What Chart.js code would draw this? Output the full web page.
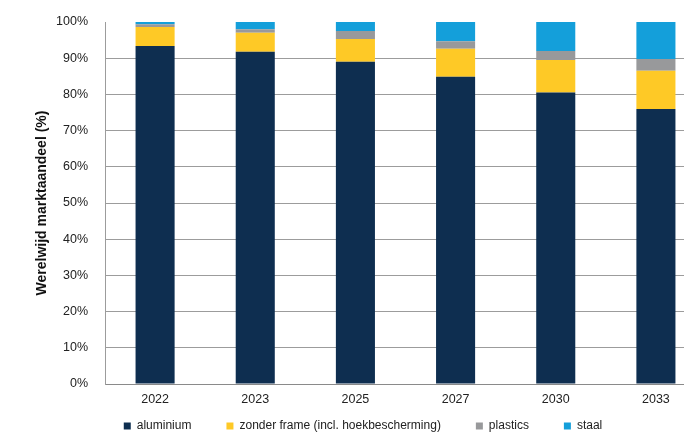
<!DOCTYPE html>
<html>
<head>
<meta charset="utf-8">
<script src="https://cdn.jsdelivr.net/npm/chart.js@4"></script>
<style>
html,body{margin:0;padding:0;background:#fff;overflow:hidden;}
#wrap{position:relative;width:706px;height:439px;}
</style>
</head>
<body>
<div id="wrap"><canvas id="c"></canvas></div>
<script>
const categories = ['2022','2023','2025','2027','2030','2033'];
const aluminium = [93.4, 91.8, 89.0, 84.9, 80.5, 76.0];
const zonderFrame = [5.2, 5.2, 6.3, 7.7, 9.0, 10.5];
const plastics = [0.8, 1.0, 2.2, 2.1, 2.5, 3.3];
const staal = [0.6, 2.0, 2.5, 5.3, 8.0, 10.2];
const seriesNames = ['aluminium','zonder frame (incl. hoekbescherming)','plastics','staal'];
const yTitle = 'Werelwijd marktaandeel (%)';

const FONT = "'Liberation Sans', Arial, sans-serif";
const colors = ['#0E2E50','#FEC926','#98999B','#149FDA'];

const legendShift = {
  id:'legendShift',
  afterLayout(chart){
    const lg = chart.legend;
    if(lg){
      lg.left += 10; lg.right += 10;
      lg.top = 385; lg.bottom = 439;
    }
  }
};

new Chart(document.getElementById('c'), {
  type:'bar',
  data:{
    labels: categories,
    datasets: [aluminium, zonderFrame, plastics, staal].map((d,i)=>({
      label: seriesNames[i],
      data: d,
      backgroundColor: colors[i],
      borderWidth: 0,
      categoryPercentage: 1,
      barPercentage: 0.39
    }))
  },
  options:{
    responsive:true,
    maintainAspectRatio:false,
    animation:false,
    layout:{padding:{left:0,right:0,top:22,bottom:0}},
    plugins:{
      tooltip:{enabled:false},
      legend:{
        position:'bottom',
        maxHeight:30,
        labels:{
          boxWidth:7, boxHeight:7, padding:35,
          color:'#222',
          font:{family:FONT,size:12}
        }
      }
    },
    scales:{
      x:{
        stacked:true,
        afterFit(s){ s.height = 25; },
        grid:{display:false, drawTicks:false},
        border:{display:true,color:'#8a8a8a',width:1},
        ticks:{color:'#222',padding:8,font:{family:FONT,size:12.5}}
      },
      y:{
        stacked:true,
        min:0,max:100,
        afterFit(s){ s.width = 105; s.paddingTop = 0; s.paddingBottom = 0; },
        grid:{
          drawTicks:false,
          color:(ctx)=> (ctx.tick && ctx.tick.value===100) ? 'rgba(0,0,0,0)' : '#9c9c9c',
          lineWidth:1
        },
        border:{display:true,color:'#9c9c9c',width:1},
        ticks:{stepSize:10,padding:17,color:'#222',
          font:{family:FONT,size:12.5},
          callback:(v)=>v+'%'},
        title:{display:true,text:yTitle,color:'#111',
          padding:{top:34,bottom:0},
          font:{family:FONT,size:14,weight:'bold'}}
      }
    }
  },
  plugins:[legendShift]
});
</script>
</body>
</html>
